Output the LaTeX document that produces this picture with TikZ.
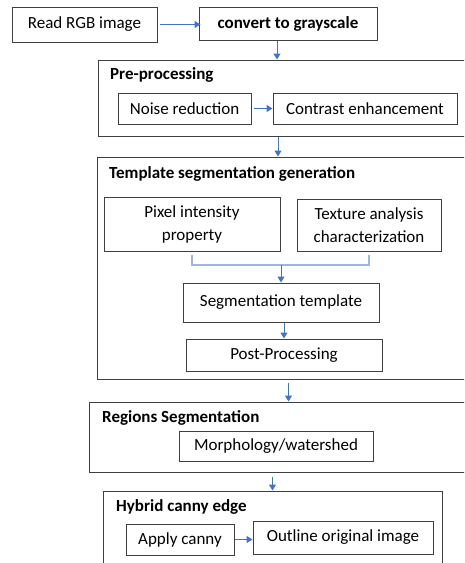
\documentclass[tikz,border=0pt]{standalone}
\usepackage{fontspec}
\setmainfont{Carlito}
\usetikzlibrary{arrows.meta}
\definecolor{arrowblue}{HTML}{4472C4}
\definecolor{lightblue}{HTML}{9DB6E0}
\definecolor{boxgray}{HTML}{404040}

\begin{document}
\begin{tikzpicture}[x=1pt,y=-1pt]
\tikzset{
  box/.style={draw=boxgray,line width=1pt,rectangle,inner sep=0pt,align=center,
    font=\fontsize{17}{23}\selectfont},
  group/.style={draw=boxgray,line width=1pt,rectangle,inner sep=0pt},
  title/.style={anchor=west,inner sep=0pt,font=\fontsize{17}{20}\selectfont\bfseries},
  arr/.style={draw=arrowblue,line width=1pt,-{Triangle[width=7pt,length=6pt]}},
  bracket/.style={draw=lightblue,line width=1.2pt}
}
\clip (0,0) rectangle (464,563);
\fill[white] (0,0) rectangle (464,563);

\node[box,minimum width=145pt,minimum height=35pt] (read) at (84.5,24.5) {Read RGB image};
\node[box,minimum width=178pt,minimum height=33pt,font=\fontsize{17}{20}\selectfont\bfseries] (gray) at (288,23.5) {convert to grayscale};

\node[group,minimum width=382pt,minimum height=76pt] (pre) at (289,98) {};
\node[title] (pretitle) at (110,75) {Pre-processing};
\node[box,minimum width=133pt,minimum height=31pt] (noise) at (184.5,108.5) {Noise reduction};
\node[box,minimum width=184pt,minimum height=31pt] (contrast) at (365,108.5) {Contrast enhancement};

\node[group,minimum width=383pt,minimum height=222pt] (tmpl) at (288.5,268) {};
\node[title] (tmpltitle) at (109,174) {Template segmentation generation};
\node[box,minimum width=176pt,minimum height=54pt] (pixel) at (192,224) {Pixel intensity\\property};
\node[box,minimum width=144pt,minimum height=52pt] (texture) at (369,225) {Texture analysis\\characterization};
\coordinate (join) at (281,265);
\node[box,minimum width=196pt,minimum height=39pt] (segt) at (281,302.5) {Segmentation template};
\node[box,minimum width=196pt,minimum height=32pt] (post) at (284,355) {Post-Processing};

\node[group,minimum width=391pt,minimum height=70pt] (regions) at (284.5,437) {};
\node[title] (regtitle) at (102,418) {Regions Segmentation};
\node[box,minimum width=194pt,minimum height=30pt] (morph) at (276,446) {Morphology/watershed};

\node[group,minimum width=339pt,minimum height=89pt] (hybrid) at (272.5,535.5) {};
\node[title] (hybtitle) at (116,507) {Hybrid canny edge};
\node[box,minimum width=108pt,minimum height=31pt] (apply) at (180,539.5) {Apply canny};
\node[box,minimum width=180pt,minimum height=33pt] (outline) at (343,537.5) {Outline original image};

\draw[arr] ([xshift=2pt]read.east) -- ([xshift=2pt]read.east -| gray.west);
\draw[arr] ([xshift=-11pt]gray.south) -- ([xshift=-11pt]gray.south |- pre.north);
\draw[arr] ([xshift=2pt]noise.east) -- (contrast.west);
\draw[arr] ([xshift=-11pt]pre.south) -- ([xshift=-11pt]pre.south |- tmpl.north);
\draw[bracket] ([yshift=-3pt]pixel.south) |- (join) -| ([yshift=-3pt]texture.south);
\draw[arr] (join) -- (segt.north);
\draw[arr] (post.north |- segt.south) -- (post.north);
\draw[arr] ([yshift=-3pt]tmpl.south) -- (tmpl.south |- regions.north);
\draw[arr] ([yshift=-4pt]regions.south -| hybrid.north) -- (hybrid.north);
\draw[arr] (apply.east) -- (apply.east -| outline.west);
\end{tikzpicture}
\end{document}
